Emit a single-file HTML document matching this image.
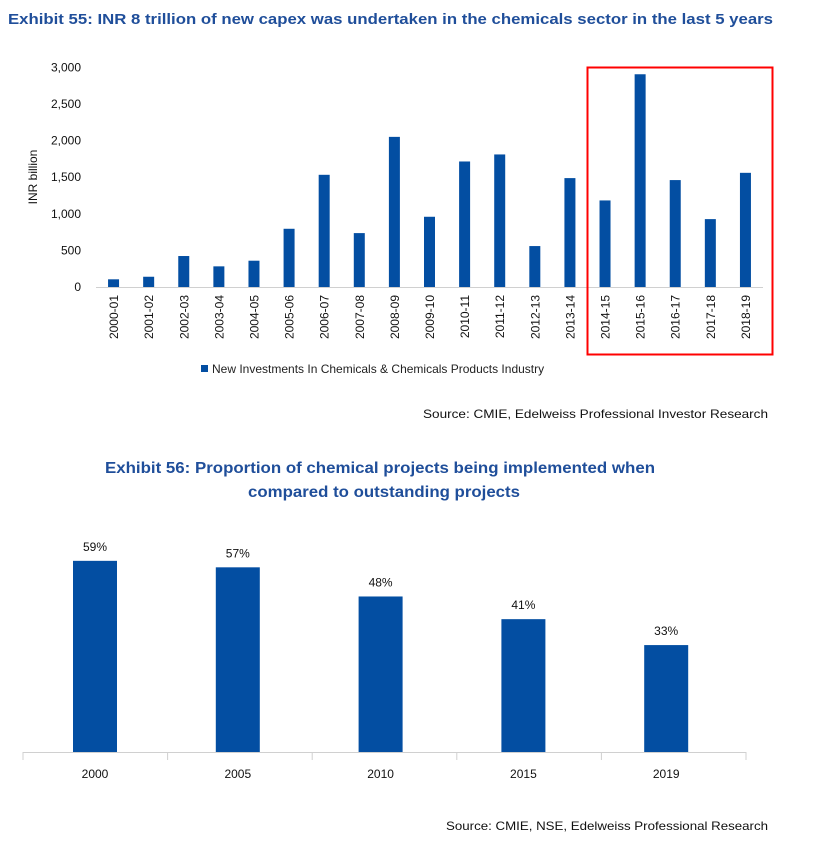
<!DOCTYPE html>
<html><head><meta charset="utf-8">
<style>
html,body{margin:0;padding:0;background:#fff;}
svg{display:block;font-family:"Liberation Sans",sans-serif;}
</style></head>
<body>
<svg id="s" width="813" height="847" viewBox="0 0 813 847" xmlns="http://www.w3.org/2000/svg">
<text x="8" y="24" font-size="15" font-weight="bold" fill="#1F4E9A" textLength="765" lengthAdjust="spacingAndGlyphs">Exhibit 55: INR 8 trillion of new capex was undertaken in the chemicals sector in the last 5 years</text>
<g id="c1"></g>
<rect x="587.5" y="67.5" width="185" height="287" fill="none" stroke="#FF0000" stroke-width="2"/>
<rect x="201" y="365" width="7" height="7" fill="#034EA2"/>
<text x="212" y="373" font-size="12" fill="#222">New Investments In Chemicals &amp; Chemicals Products Industry</text>
<text x="768" y="418" font-size="12" fill="#111" text-anchor="end" textLength="345" lengthAdjust="spacingAndGlyphs">Source: CMIE, Edelweiss Professional Investor Research</text>
<text x="380" y="473" font-size="16" font-weight="bold" fill="#1F4E9A" text-anchor="middle" textLength="550" lengthAdjust="spacingAndGlyphs">Exhibit 56: Proportion of chemical projects being implemented when</text>
<text x="384" y="497" font-size="16" font-weight="bold" fill="#1F4E9A" text-anchor="middle" textLength="272" lengthAdjust="spacingAndGlyphs">compared to outstanding projects</text>
<g id="c2"></g>
<text x="768" y="830" font-size="12" fill="#111" text-anchor="end" textLength="322" lengthAdjust="spacingAndGlyphs">Source: CMIE, NSE, Edelweiss Professional Research</text>
</svg>
<script>
const categories1 = ["2000-01","2001-02","2002-03","2003-04","2004-05","2005-06","2006-07","2007-08","2008-09","2009-10","2010-11","2011-12","2012-13","2013-14","2014-15","2015-16","2016-17","2017-18","2018-19"];
const values1 = [105,140,423,282,359,795,1532,736,2050,959,1714,1810,559,1487,1182,2905,1460,927,1559];
const yTicks1 = [0,500,1000,1500,2000,2500,3000];
const yTickLabels1 = ["0","500","1,000","1,500","2,000","2,500","3,000"];
const categories2 = ["2000","2005","2010","2015","2019"];
const values2 = [59,57,48,41,33];
const valueLabels2 = ["59%","57%","48%","41%","33%"];

const NS="http://www.w3.org/2000/svg";
function mk(tag, attrs, parent){const e=document.createElementNS(NS,tag);for(const k in attrs)e.setAttribute(k,attrs[k]);parent.appendChild(e);return e;}

// Chart 1
const g1=document.getElementById('c1');
const x0=96,x1=763,yBase=287,yTop=67.3,yMax=3000;
const y1=v=>yBase-(v/yMax)*(yBase-yTop);
const band1=(x1-x0)/categories1.length;
const xc1=i=>x0+band1*(i+0.5);
yTicks1.forEach((t,i)=>{
  const tx=mk('text',{x:81,y:y1(t)+4,'font-size':12,fill:'#111','text-anchor':'end'},g1);
  tx.textContent=yTickLabels1[i];
  
  
});
const yt=mk('text',{x:0,y:0,'font-size':12,fill:'#111','text-anchor':'middle',transform:'translate(37,177) rotate(-90)'},g1);
yt.textContent='INR billion';


values1.forEach((v,i)=>{
  const r=mk('rect',{x:xc1(i)-5.5,y:y1(v),width:11,height:yBase-y1(v),fill:'#034EA2'},g1);
  
  
  const t=mk('text',{x:0,y:0,'font-size':12,fill:'#111','text-anchor':'end',transform:`translate(${xc1(i)+4.5},${yBase+8}) rotate(-90)`},g1);
  t.textContent=categories1[i];
  
  
});
const ax1=mk('line',{x1:x0,x2:x1,y1:yBase+0.5,y2:yBase+0.5,stroke:'#d0d0d0','stroke-width':1},g1);



// Chart 2
const g2=document.getElementById('c2');
const a0=23,a1=746,base2=752,pxPer=3.24;
const band2=(a1-a0)/categories2.length;
const barStep=142.8;
const xc2=i=>95+barStep*i;
const y2=v=>base2-v*pxPer;
values2.forEach((v,i)=>{
  const r=mk('rect',{x:xc2(i)-22,y:y2(v),width:44,height:base2-y2(v),fill:'#034EA2'},g2);
  
  
  const l=mk('text',{x:xc2(i),y:y2(v)-10,'font-size':12,fill:'#111','text-anchor':'middle'},g2);
  l.textContent=valueLabels2[i];
  
  
  const t=mk('text',{x:xc2(i),y:base2+26,'font-size':12,fill:'#111','text-anchor':'middle'},g2);
  t.textContent=categories2[i];
  
  
});
const ax2=mk('line',{x1:a0,x2:a1,y1:base2+0.5,y2:base2+0.5,stroke:'#d0d0d0','stroke-width':1},g2);


for(let i=0;i<=categories2.length;i++){
  const x=a0+band2*i;
  const tk=mk('line',{x1:x,x2:x,y1:base2,y2:base2+8,stroke:'#d0d0d0','stroke-width':1},g2);
  
  
}
</script>
</body></html>
